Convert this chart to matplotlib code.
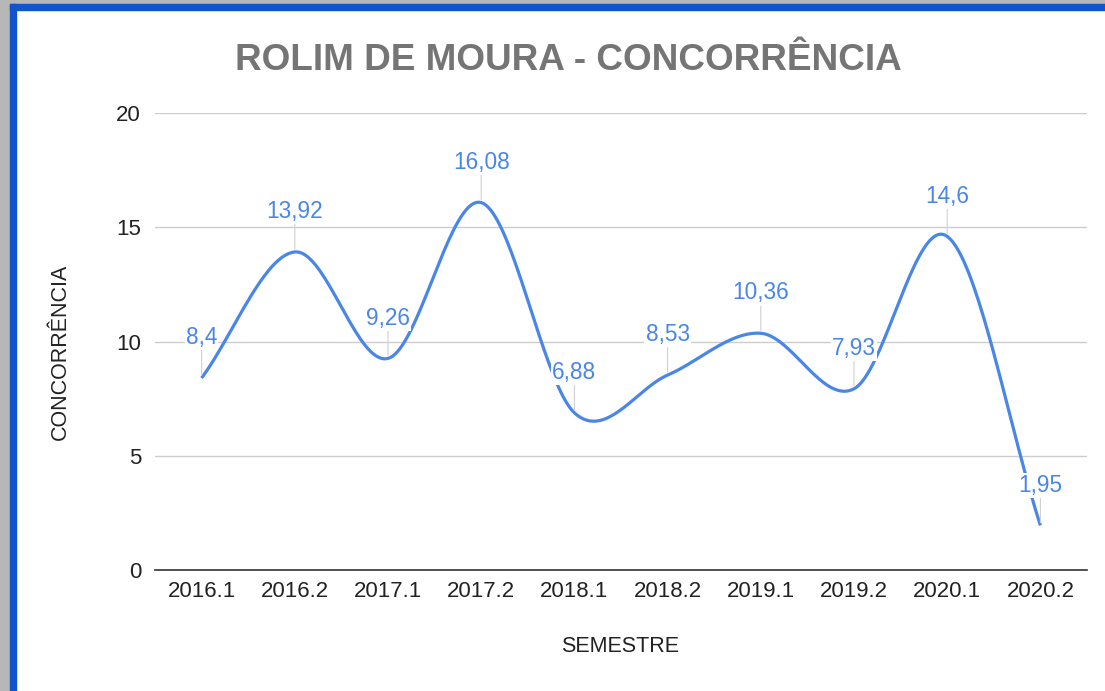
import numpy as np
import matplotlib
matplotlib.use('Agg')
import matplotlib.pyplot as plt
from matplotlib.patches import Rectangle

# dados
semestres = ['2016.1', '2016.2', '2017.1', '2017.2', '2018.1',
             '2018.2', '2019.1', '2019.2', '2020.1', '2020.2']
concorrencia = [8.4, 13.92, 9.26, 16.08, 6.88, 8.53, 10.36, 7.93, 14.6, 1.95]
rotulos = ['8,4', '13,92', '9,26', '16,08', '6,88', '8,53', '10,36', '7,93', '14,6', '1,95']

plt.rcParams['font.family'] = ['Liberation Sans', 'DejaVu Sans']

azul = '#4a86e8'


def catmull_rom(y, n=40):
    # curva suave passando pelos pontos (tipo planilha Google)
    y = np.asarray(y, dtype=float)
    k = len(y)
    m = np.zeros(k)
    m[1:-1] = (y[2:] - y[:-2]) / 2.0
    m[0] = y[1] - y[0]
    m[-1] = y[-1] - y[-2]
    xs, ys = [], []
    for i in range(k - 1):
        t = np.linspace(0, 1, n, endpoint=(i == k - 2))
        h00 = 2*t**3 - 3*t**2 + 1
        h10 = t**3 - 2*t**2 + t
        h01 = -2*t**3 + 3*t**2
        h11 = t**3 - t**2
        xs.append(i + t)
        ys.append(h00*y[i] + h10*m[i] + h01*y[i+1] + h11*m[i+1])
    return np.concatenate(xs), np.concatenate(ys)


fig = plt.figure(figsize=(11.05, 6.91), dpi=100)
fig.patch.set_facecolor('white')

# moldura da captura de tela
fig.patches.append(Rectangle((0, 1 - 4/691), 1, 4/691, transform=fig.transFigure,
                             color='#b7b7b7', zorder=0))
fig.patches.append(Rectangle((0, 0), 10/1105, 1, transform=fig.transFigure,
                             color='#b7b7b7', zorder=0))
fig.patches.append(Rectangle((10/1105, 1 - 10/691), 1, 6/691, transform=fig.transFigure,
                             color='#1155cc', zorder=1))
fig.patches.append(Rectangle((10/1105, 0), 6/1105, 1 - 4/691, transform=fig.transFigure,
                             color='#1155cc', zorder=1))

ax = fig.add_axes([155/1105, 1 - 570/691, (1087 - 155)/1105, (570 - 113)/691])

x = np.arange(len(semestres))
cx, cy = catmull_rom(concorrencia)
ax.plot(cx, cy, color=azul, lw=2.3, solid_capstyle='butt', zorder=3)

for i, (v, r) in enumerate(zip(concorrencia, rotulos)):
    ax.annotate(r, xy=(i, v), xytext=(0, 29), textcoords='offset points',
                ha='center', va='center', fontsize=16.3, color=azul,
                bbox=dict(boxstyle='square,pad=0.05', fc='white', ec='none'),
                arrowprops=dict(arrowstyle='-', color='#d0d0d0', lw=0.8,
                                shrinkA=0, shrinkB=2),
                zorder=4)

ax.set_xlim(-0.5, len(semestres) - 0.5)
ax.set_ylim(0, 20)
ax.set_yticks([0, 5, 10, 15, 20])
ax.set_xticks(x)
ax.set_xticklabels(semestres)
ax.tick_params(length=0, labelsize=16, colors='#222222', pad=10)
ax.tick_params(axis='x', pad=8)
ax.grid(axis='y', color='#cccccc', lw=1)
ax.set_axisbelow(True)
for s in ['top', 'right', 'left']:
    ax.spines[s].set_visible(False)
ax.spines['bottom'].set_color('#333333')
ax.spines['bottom'].set_linewidth(1.2)

fig.text(0.514, 1 - 60/691, 'ROLIM DE MOURA - CONCORRÊNCIA', ha='center', va='center',
         fontsize=26.6, fontweight='bold', color='#757575')
fig.text(60/1105, 1 - 352/691, 'CONCORRÊNCIA', rotation=90, ha='center', va='center',
         fontsize=15.5, color='#222222')
fig.text(620/1105, 1 - 647/691, 'SEMESTRE', ha='center', va='center',
         fontsize=15.5, color='#222222')

fig.savefig('out.png', dpi=100)
